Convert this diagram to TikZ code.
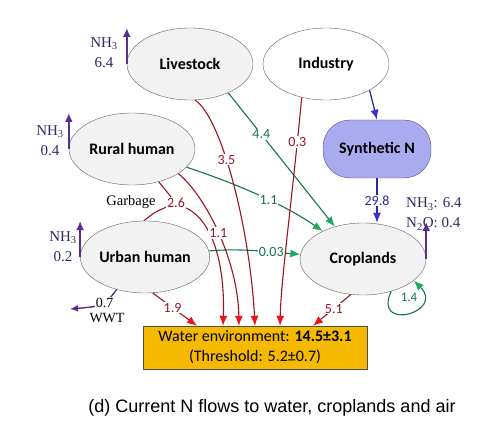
\documentclass[tikz,border=0pt]{standalone}
\usepackage{fontspec}
\setmainfont{Carlito}
\newfontfamily\timesfont{Liberation Serif}
\newfontfamily\arialfont{Liberation Sans}
\usetikzlibrary{calc}
\usetikzlibrary{positioning}
\usetikzlibrary{shapes.geometric}
\usetikzlibrary{arrows.meta}
\definecolor{flowred}{RGB}{155,20,35}
\definecolor{headred}{RGB}{235,20,20}
\definecolor{flowgreen}{RGB}{20,115,80}
\definecolor{headgreen}{RGB}{30,170,100}
\definecolor{flowblue}{RGB}{45,40,150}
\definecolor{headblue}{RGB}{55,45,215}
\definecolor{airpurple}{RGB}{90,45,145}
\definecolor{airtext}{RGB}{50,40,100}
\definecolor{waterfill}{RGB}{245,185,0}
\definecolor{synfill}{RGB}{170,170,238}
\tikzstyle{sector} = [draw=gray!75!black, ellipse, fill=gray!10, minimum width=126pt, minimum height=72pt, inner sep=0pt, font=\fontsize{16}{19}\selectfont\bfseries]
\tikzstyle{synbox} = [draw=flowblue!60!gray, fill=synfill, rounded corners=27pt, minimum width=108pt, minimum height=58pt, font=\fontsize{16}{19}\selectfont\bfseries]
\tikzstyle{waterbox} = [draw=black!70, fill=waterfill, minimum width=224pt, minimum height=43pt, align=center, inner sep=1pt, font=\fontsize{16}{20}\selectfont]
\tikzstyle{redflow} = [draw=flowred, line width=1.1pt, -{Latex[length=10pt,width=8pt,color=headred]}]
\tikzstyle{greenflow} = [draw=flowgreen, line width=1.1pt, -{Latex[length=10pt,width=8pt,color=headgreen]}]
\tikzstyle{blueflow} = [draw=flowblue, line width=1.3pt, -{Latex[length=10pt,width=8pt,color=headblue]}]
\tikzstyle{airflow} = [draw=airpurple, line width=1.8pt, -{Latex[length=9pt,width=8pt]}]
\tikzstyle{redval} = [fill=white, inner sep=1pt, text=flowred, font=\fontsize{14}{16}\selectfont]
\tikzstyle{greenval} = [fill=white, inner sep=1pt, text=flowgreen, font=\fontsize{14}{16}\selectfont]
\tikzstyle{airlabel} = [align=center, inner sep=0pt, text=airtext, font=\fontsize{15}{20}\timesfont]

\begin{document}
\begin{tikzpicture}[x=1pt, y=1pt]
    \useasboundingbox (0,0) rectangle (502,-427);

    % sectors
    \node[sector] (live) at (190,-64) {Livestock};
    \node[sector, fill=white] (ind) at (326,-64) {Industry};
    \node[sector] (rural) at (132,-149) {Rural human};
    \node[sector] (urban) at (145,-257) {Urban human};
    \node[sector] (crop) at (363,-259) {Croplands};
    \node[synbox] (syn) at (377,-149) {Synthetic N};
    \node[waterbox] (water) at (255,-347.5) {Water environment: \textbf{14.5±3.1}\\(Threshold: 5.2±0.7)};

    % emissions to air
    \coordinate (liveair) at ($(live.west)+(0,36)$);
    \coordinate (ruralair) at ($(rural.west)+(0,36)$);
    \coordinate (urbanair) at ($(urban.west)+(0,36)$);
    \coordinate (cropair) at ($(crop.east)+(0,37)$);
    \draw[airflow] (live.west) -- (liveair);
    \draw[airflow] (rural.west) -- (ruralair);
    \draw[airflow] (urban.west) -- (urbanair);
    \draw[airflow] (crop.east) -- (cropair);
    \node[airlabel] (livenh) at (104,-53) {NH\textsubscript{3}\\6.4};
    \node[airlabel] (ruralnh) at (50,-141) {NH\textsubscript{3}\\0.4};
    \node[airlabel] (urbannh) at (63,-247) {NH\textsubscript{3}\\0.2};
    \node[airlabel, align=left, anchor=west] (cropnh) at (406,-214) {NH\textsubscript{3}: 6.4\\N\textsubscript{2}O: 0.4};

    % fertilizer
    \draw[blueflow] (ind.-31) -- (syn.north);
    \draw[blueflow] (syn.south) -- node[fill=white, inner sep=1pt, text=flowblue, font=\fontsize{14}{16}\selectfont] {29.8} (crop.north -| syn.south);

    % flows to croplands
    \draw[greenflow] (live.-37) -- node[greenval, pos=.31] {4.4} (crop.131);
    \draw[greenflow] (rural) .. controls (240,-185) and (285,-205) .. node[greenval, pos=.56] {1.1} (crop);
    \draw[greenflow] (urban) .. controls (240,-248) and (270,-252) .. node[greenval, pos=.68] {0.03} (crop);
    \draw[greenflow] (crop.-49) .. controls +(-115:45) and +(-45:45) .. (crop.-23);
    \node[text=flowgreen, font=\fontsize{13}{16}\selectfont] (loopval) at (409,-297) {1.4};

    % garbage
    \node[redval] (garb) at (176,-203) {2.6};
    \node[font=\fontsize{14.5}{16}\timesfont] (garbtxt) at (131,-202) {Garbage};
    \draw[draw=flowred, line width=1.1pt] (rural) -- (garb);
    \draw[draw=flowred, line width=1.1pt] (urban.92) .. controls (155,-212) .. (garb);

    % flows to water
    \draw[redflow] (garb) .. controls (215,-222) and (225,-270) .. ([xshift=-32pt]water.north);
    \draw[redflow] (rural.-28) .. controls (205,-195) and (238,-260) .. node[redval, pos=.5] {1.1} ([xshift=-16pt]water.north);
    \draw[redflow] (live.-82) .. controls (222,-118) and (250,-230) .. node[redval, pos=.4] {3.5} (water.north);
    \draw[redflow] (ind.234) .. controls (292,-200) and (281,-280) .. node[redval, pos=.15] {0.3} ([xshift=25pt]water.north);
    \draw[redflow] (urban.-78) -- node[redval, pos=.45] {1.9} ([xshift=-58pt]water.north);
    \draw[redflow] (crop.-109) -- node[redval, pos=.45] {5.1} ([xshift=58pt]water.north);

    % waste water
    \coordinate (wwt) at (70,-309);
    \draw[draw=airpurple, line width=1.4pt, -{Latex[length=8pt,width=7pt]}] (urban.-131) .. controls (104,-306) .. node[fill=white, inner sep=1pt, font=\fontsize{14}{16}\timesfont, pos=.4] {0.7} (wwt);
    \node[font=\fontsize{14}{16}\timesfont] (wwttxt) at (107,-318) {WWT};

    \node[font=\fontsize{18}{20}\arialfont] (caption) at (272,-408) {(d) Current N flows to water, croplands and air};
\end{tikzpicture}
\end{document}
